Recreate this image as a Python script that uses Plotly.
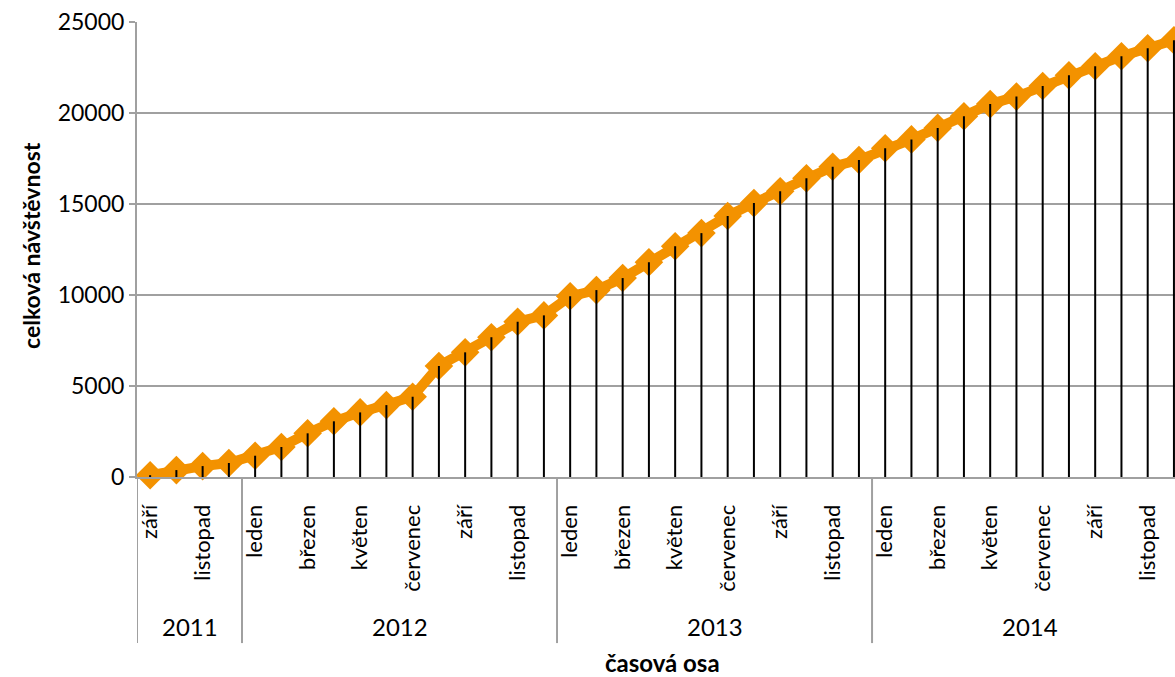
import plotly.graph_objects as go

months_2011 = ["září", "říjen", "listopad", "prosinec"]
months_full = ["leden", "únor", "březen", "duben", "květen", "červen",
               "červenec", "srpen", "září", "říjen", "listopad", "prosinec"]
years = ["2011", "2012", "2013", "2014"]
year_months = [months_2011, months_full, months_full, months_full]

visits = [100, 380, 600, 770, 1170, 1650, 2400, 3060, 3550, 3950, 4410, 6100,
          6850, 7680, 8530, 8880, 9930, 10270, 10930, 11800, 12680, 13400,
          14340, 15050, 15700, 16410, 17050, 17420, 18060, 18550, 19180,
          19820, 20490, 20900, 21480, 22070, 22570, 23120, 23560, 24000]

y_ticks = [0, 5000, 10000, 15000, 20000, 25000]

month_labels = []
for yr, ms in zip(years, year_months):
    for m in ms:
        month_labels.append(m)
x = list(range(len(visits)))

ORANGE = "#F39200"
FONT = "Lato"

fig = go.Figure()
fig.add_trace(go.Scatter(
    x=x, y=visits, mode="lines+markers",
    line=dict(color=ORANGE, width=10),
    marker=dict(symbol="diamond", size=22, color=ORANGE),
    hoverinfo="skip", showlegend=False, cliponaxis=False))
fig.add_trace(go.Scatter(
    x=x, y=visits, mode="markers",
    marker=dict(size=1, color="rgba(0,0,0,0)"),
    error_y=dict(type="data", symmetric=False, array=[0] * len(visits),
                 arrayminus=visits, color="black", thickness=2, width=0),
    hoverinfo="skip", showlegend=False))

tickvals = x[::2]
ticktext = month_labels[::2]

shapes = []
annotations = []
start = 0
bounds = [-0.5]
for yr, ms in zip(years, year_months):
    end = start + len(ms)
    bounds.append(end - 0.5)
    annotations.append(dict(x=(start + end - 1) / 2, y=-0.328, xref="x", yref="paper",
                            text=yr, showarrow=False, yanchor="middle",
                            font=dict(family=FONT, size=24, color="black")))
    start = end
for b in bounds:
    shapes.append(dict(type="line", xref="x", yref="paper", x0=b, x1=b,
                       y0=0, y1=-0.365, line=dict(color="#A0A0A0", width=2)))

annotations.append(dict(x=0.5058, y=-0.407, xref="paper", yref="paper",
                        text="<b>časová osa</b>", showarrow=False,
                        xanchor="center", yanchor="middle",
                        font=dict(family=FONT, size=24, color="black")))
annotations.append(dict(x=-0.102, y=0.508, xref="paper", yref="paper",
                        text="<b>celková návštěvnost</b>", showarrow=False,
                        textangle=-90, xanchor="center", yanchor="middle",
                        font=dict(family=FONT, size=23, color="black")))

fig.update_layout(
    width=1175, height=677,
    margin=dict(l=137, r=0, t=22, b=200),
    paper_bgcolor="white", plot_bgcolor="white",
    font=dict(family=FONT, size=20, color="black"),
    shapes=shapes, annotations=annotations,
    xaxis=dict(range=[-0.5, 39.04], tickmode="array", tickvals=tickvals,
               ticktext=ticktext, tickangle=-90, showgrid=False,
               showline=True, linecolor="#A0A0A0", linewidth=2,
               ticks="", zeroline=False, automargin=False,
               ticklabelstandoff=17,
               tickfont=dict(family=FONT, size=22)),
    yaxis=dict(range=[0, 25000], tickvals=y_ticks, tickformat="d",
               ticksuffix="\u2002\u2009",
               showgrid=True, automargin=False,
               gridcolor="#A0A0A0", gridwidth=2, showline=True,
               linecolor="#A0A0A0", linewidth=2, ticks="outside",
               ticklen=6, tickcolor="#A0A0A0", tickwidth=2, zeroline=False,
               tickfont=dict(family=FONT, size=23)),
)

fig.write_html("out.html", config={"displayModeBar": False},
               post_script="document.body.style.margin='0';document.body.style.overflow='hidden';")
